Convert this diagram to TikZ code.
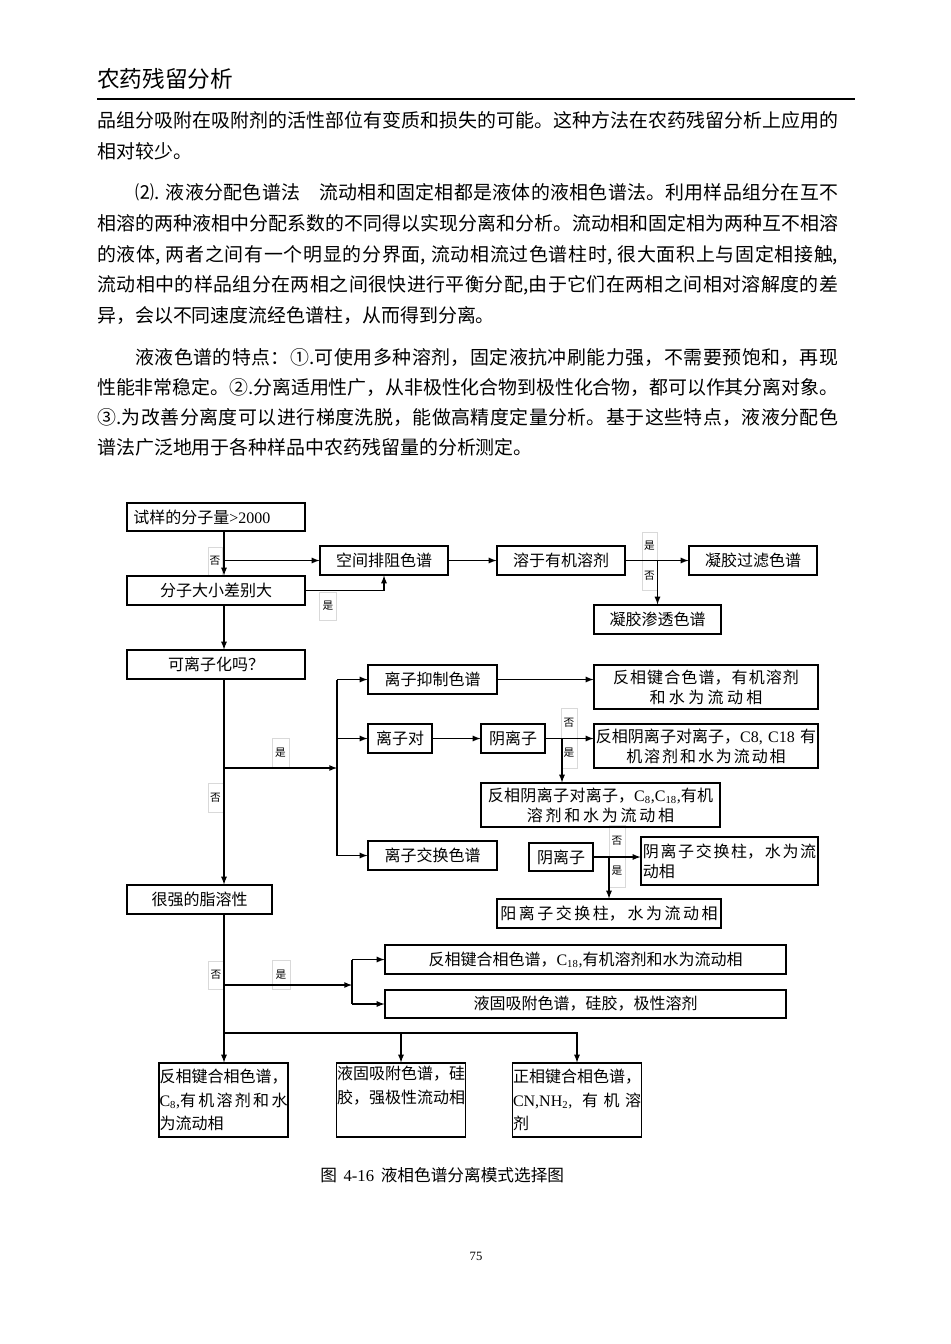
\documentclass[tikz,border=0pt]{standalone}
\usepackage{fontspec}
\setmainfont{Noto Sans CJK SC}
\newfontfamily\tm{Liberation Serif}
\XeTeXlinebreaklocale "zh"
\XeTeXlinebreakskip=0pt plus 1.5pt minus 0.3pt
\tolerance=9999
\usetikzlibrary{positioning}
\newcommand{\lC}[1]{{\tm C\textsubscript{#1}}}
\newcommand{\lFill}{\hskip 0pt plus -1fil\null}
\newcommand{\lBoxFont}{\fontsize{12}{15}\selectfont}

\begin{document}
\begin{tikzpicture}[
        x=0.75pt, y=-0.75pt,
        box/.style={draw, line width=.8pt, inner sep=1pt, align=center, font=\lBoxFont},
        box wide/.style={box, minimum width=168pt, minimum height=33pt, text width=166pt},
        box tall/.style={box, minimum width=96.75pt, minimum height=55.5pt, text width=96pt, inner xsep=.375pt, align=justify, font=\fontsize{12}{17.6}\selectfont},
        yesno/.style={draw=black!15, line width=.4pt, inner sep=1pt, align=center, font=\fontsize{8}{22.5}\selectfont},
        para/.style={text width=555.75pt, align=justify, inner sep=0pt, anchor=base west},
        link/.style={line width=1pt, -latex},
        bracket/.style={line width=1pt},
    ]

    \path[use as bounding box, fill=white] (0,0) rectangle (950,1344);

    % page head and text
    \path (97,88) node[anchor=base west, inner sep=0pt, font=\fontsize{17}{17}\selectfont] (head) {农药残留分析};
    \draw[line width=1.5pt] (97,99) -- (855,99);

    \path (97,128) node[para, font=\fontsize{14.2}{23.25}\selectfont] (para 1) {品组分吸附在吸附剂的活性部位有变质和损失的可能。这种方法在农药残留分析上应用的\linebreak
        相对较少。};
    \path (97,200) node[para, font=\fontsize{14.2}{22.9}\selectfont] (para 2) {\hspace*{2em}⑵. 液液分配色谱法　流动相和固定相都是液体的液相色谱法。利用样品组分在互不\linebreak
        相溶的两种液相中分配系数的不同得以实现分离和分析。流动相和固定相为两种互不相溶\linebreak
        的液体, 两者之间有一个明显的分界面, 流动相流过色谱柱时, 很大面积上与固定相接触,\linebreak
        流动相中的样品组分在两相之间很快进行平衡分配,由于它们在两相之间相对溶解度的差\linebreak
        异，会以不同速度流经色谱柱，从而得到分离。};
    \path (97,364) node[para, font=\fontsize{14.2}{22.5}\selectfont] (para 3) {\hspace*{2em}液液色谱的特点：①.可使用多种溶剂，固定液抗冲刷能力强，不需要预饱和，再现\linebreak
        性能非常稳定。②.分离适用性广，从非极性化合物到极性化合物，都可以作其分离对象。\linebreak
        ③.为改善分离度可以进行梯度洗脱，能做高精度定量分析。基于这些特点，液液分配色\linebreak
        谱法广泛地用于各种样品中农药残留量的分析测定。};

    % yes / no labels
    \path (215,561) node[yesno, minimum width=10.5pt, minimum height=21pt] (no mass) {否};
    \path (328,606) node[yesno, minimum width=13pt, minimum height=21pt] (yes size) {是};
    \path (649.5,561) node[yesno, minimum width=11.5pt, minimum height=43.5pt] (yes no organic) {是\\否};
    \path (280.5,753) node[yesno, minimum width=12.75pt, minimum height=22.5pt] (yes ionic) {是};
    \path (215.5,797.5) node[yesno, minimum width=11pt, minimum height=21.75pt] (no ionic) {否};
    \path (569,738) node[yesno, minimum width=12pt, minimum height=45pt] (no yes anion 1) {否\\是};
    \path (617,856) node[yesno, minimum width=12pt, minimum height=46.5pt] (no yes anion 2) {否\\是};
    \path (216,975) node[yesno, minimum width=11pt, minimum height=21pt] (no lipo) {否};
    \path (281,975) node[yesno, minimum width=13.5pt, minimum height=21.75pt] (yes lipo) {是};

    % boxes
    \path (216,517) node[box, minimum height=21pt, text width=124pt, inner xsep=4.75pt, align=left] (mass) {试样的分子量{\tm >2000}};
    \path (216,590.5) node[box, minimum width=133.5pt, minimum height=21.75pt] (size) {分子大小差别大};
    \path (384,560.5) node[box, minimum width=96pt, minimum height=21.75pt] (sec) {空间排阻色谱};
    \path (561,560.5) node[box, minimum width=96pt, minimum height=21.75pt] (organic) {溶于有机溶剂};
    \path (753,560.5) node[box, minimum width=96pt, minimum height=21.75pt] (gfc) {凝胶过滤色谱};
    \path (657.5,619.5) node[box, minimum width=95.25pt, minimum height=21.75pt] (gpc) {凝胶渗透色谱};

    \path (216,664.5) node[box, minimum width=133.5pt, minimum height=21.75pt] (ionic) {可离子化吗？};
    \path (432.5,679.5) node[box, minimum width=96.75pt, minimum height=21.75pt] (suppress) {离子抑制色谱};
    \path (400,738.5) node[box, minimum width=48pt, minimum height=21.75pt] (pair) {离子对};
    \path (432.5,855.5) node[box, minimum width=96.75pt, minimum height=21.75pt] (exchange) {离子交换色谱};
    \path (706,687) node[box wide] (rp) {反相键合色谱，有机溶剂\\和水为流动相};
    \path (513,738.5) node[box, minimum width=48pt, minimum height=21.75pt] (anion 1) {阴离子};
    \path (706,746) node[box wide] (rp pair) {反相阴离子对离子，{\tm C8, C18} 有\\机溶剂和水为流动相};
    \path (600.5,805) node[box wide, minimum width=179.25pt, text width=177pt] (rp pair sub) {反相阴离子对离子，\lC{8}{\tm ,}\lC{18}{\tm ,}有机\\溶剂和水为流动相};
    \path (561,857) node[box, minimum width=48pt, minimum height=21pt] (anion 2) {阴离子};
    \path (729.5,861) node[box, minimum width=132.75pt, minimum height=36pt, text width=130pt, align=justify] (aex) {阴离子交换柱，水为流\linebreak 动相};
    \path (609,913.5) node[box, minimum width=168pt, minimum height=21.75pt, text width=163pt, align=justify] (cex) {阳离子交换柱，水为流动相\lFill};

    \path (199.5,899.5) node[box, minimum width=108.75pt, minimum height=21.75pt] (lipo) {很强的脂溶性};
    \path (585.5,959.5) node[box, minimum width=300.75pt, minimum height=21.75pt] (rp c18) {反相键合相色谱，\lC{18}{\tm ,}有机溶剂和水为流动相};
    \path (585.5,1004) node[box, minimum width=300.75pt, minimum height=21pt] (lsa) {液固吸附色谱，硅胶，极性溶剂};
    \path (223.5,1100) node[box tall] (rp c8) {反相键合相色谱，\linebreak \lC{8}{\tm ,}有机溶剂和水\linebreak 为流动相};
    \path (401,1100) node[box tall] (lsa polar) {液固吸附色谱，硅\linebreak 胶，强极性流动相\par\strut};
    \path (577,1100) node[box tall] (np) {正相键合相色谱，\linebreak {\tm CN,NH\textsubscript{2},} 有机溶\linebreak 剂};

    % connectors
    \coordinate (trunk) at (224,0);
    \draw[link] (mass.south -| trunk) -- (size.north -| trunk);
    \draw[link] (sec.west -| trunk) -- (sec.west);
    \draw[link] (size.east) -| (sec.south);
    \draw[link] (sec) -- (organic);
    \draw[link] (organic) -- (gfc);
    \draw[link] (organic.east -| gpc) -- (gpc.north);
    \draw[link] (size.south -| trunk) -- (ionic.north -| trunk);
    \draw[link] (ionic.south -| trunk) -- (lipo.north -| trunk);

    \coordinate (ion branch) at (337,768);
    \draw[link] (trunk |- ion branch) -- (ion branch);
    \draw[bracket] (ion branch |- suppress) -- (ion branch |- exchange);
    \draw[link] (ion branch |- suppress) -- (suppress);
    \draw[link] (ion branch |- pair) -- (pair);
    \draw[link] (ion branch |- exchange) -- (exchange);
    \draw[link] (suppress) -- (suppress -| rp.west);
    \draw[link] (pair) -- (anion 1);
    \draw[link] (anion 1) -- (anion 1 -| rp pair.west);
    \coordinate (pair branch) at (562,0);
    \draw[link] (anion 1.east -| pair branch) -- (rp pair sub.north -| pair branch);
    \draw[link] (anion 2) -- (anion 2 -| aex.west);
    \draw[link] (anion 2.east -| cex) -- (cex.north);

    \coordinate (lipo branch) at (352,985);
    \draw[link] (trunk |- lipo branch) -- (lipo branch);
    \draw[bracket] (lipo branch |- rp c18) -- (lipo branch |- lsa);
    \draw[link] (lipo branch |- rp c18) -- (rp c18);
    \draw[link] (lipo branch |- lsa) -- (lsa);
    \draw[link] (lipo.south -| trunk) -- (rp c8.north -| trunk);
    \coordinate (bar) at (0,1033);
    \draw[link] (trunk |- bar) -| (np.north);
    \draw[link] (lsa polar.north |- bar) -- (lsa polar.north);

    % caption and page number
    \path (320,1175) node[anchor=west, inner sep=0pt, font=\fontsize{12.5}{12.5}\selectfont] (caption) {图\hspace{.4em}{\tm 4-16}\hspace{.4em}液相色谱分离模式选择图};
    \path (476,1256) node[inner sep=0pt, font=\tm\fontsize{9.5}{9.5}\selectfont] (page) {75};
\end{tikzpicture}
\end{document}
